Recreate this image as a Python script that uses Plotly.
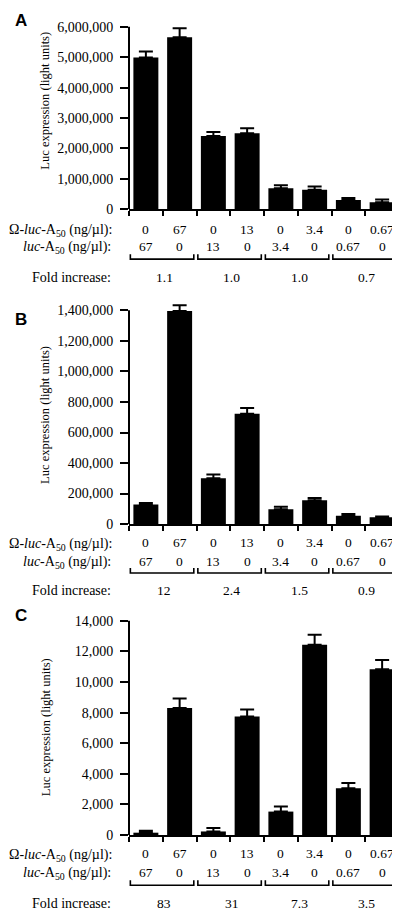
import plotly.graph_objects as go

W, H = 400, 912

# ---------------- data ----------------
omega_conc = ["0", "67", "0", "13", "0", "3.4", "0", "0.67"]
luc_conc = ["67", "0", "13", "0", "3.4", "0", "0.67", "0"]

values_A = [4990000, 5660000, 2410000, 2500000, 690000, 640000, 300000, 230000]
err_A = [200000, 290000, 130000, 160000, 100000, 110000, 70000, 90000]
fold_A = ["1.1", "1.0", "1.0", "0.7"]
ticks_A = [0, 1000000, 2000000, 3000000, 4000000, 5000000, 6000000]

values_B = [128000, 1395000, 301000, 723000, 97000, 156000, 55000, 45000]
err_B = [11000, 39000, 24000, 37000, 16000, 15000, 12000, 5000]
fold_B = ["12", "2.4", "1.5", "0.9"]
ticks_B = [0, 200000, 400000, 600000, 800000, 1000000, 1200000, 1400000]

values_C = [150, 8310, 230, 7750, 1530, 12440, 3050, 10840]
err_C = [130, 610, 220, 455, 325, 650, 345, 600]
fold_C = ["83", "31", "7.3", "3.5"]
ticks_C = [0, 2000, 4000, 6000, 8000, 10000, 12000, 14000]

panel_letters = ["A", "B", "C"]
y_title = "Luc expression (light units)"
row1_label = "Ω-<i>luc</i>-A<sub>50</sub> (ng/µl):"
row2_label = "<i>luc</i>-A<sub>50</sub> (ng/µl):"
fold_label = "Fold increase:"

# ---------------- layout geometry (pixels) ----------------
SERIF = "Liberation Serif"
SANS = "Liberation Sans"
FS = 14
FS_VAL = 13.5
X_LEFT, X_RIGHT = 121, 391

panels = [
    dict(vals=values_A, err=err_A, fold=fold_A, ticks=ticks_A,
         zero=203.0, top_px=19.0, letter_y=13, title_y=94,
         row1=223.3, row2=240.5, br_top=248.5, br_bot=253.3, fold_y=271.7),
    dict(vals=values_B, err=err_B, fold=fold_B, ticks=ticks_B,
         zero=520.7, top_px=305.0, letter_y=314, title_y=411,
         row1=539.3, row2=558.0, br_top=565.0, br_bot=570.0, fold_y=587.3),
    dict(vals=values_C, err=err_C, fold=fold_C, ticks=ticks_C,
         zero=834.3, top_px=618.3, letter_y=613, title_y=726,
         row1=853.3, row2=871.7, br_top=880.0, br_bot=885.0, fold_y=903.0),
]


def py(px):
    return 1 - px / H


def pxx(px):
    return px / W


fig = go.Figure()
annotations = []
shapes = []
xcent = [i + 0.5 for i in range(8)]

for k, p in enumerate(panels):
    n = "" if k == 0 else str(k + 1)
    xa, ya = "x" + n, "y" + n
    ymax = p["ticks"][-1]
    scale = (p["zero"] - p["top_px"]) / ymax
    rtop = ymax * 1.04
    dom_top = p["zero"] - rtop * scale

    fig.add_trace(go.Bar(
        x=xcent, y=p["vals"], width=0.74,
        marker=dict(color="black", line=dict(width=0)),
        error_y=dict(type="data", symmetric=False, array=p["err"],
                     arrayminus=[0] * 8, color="black", thickness=2, width=7),
        xaxis=xa, yaxis=ya, showlegend=False, hoverinfo="skip",
    ))

    fig.layout["xaxis" + n] = dict(
        domain=[pxx(X_LEFT), pxx(X_RIGHT)], range=[0, 8], anchor=ya,
        tickvals=list(range(9)), ticks="outside", ticklen=5, tickwidth=1.5,
        tickcolor="black", showticklabels=False, showline=True,
        linewidth=2, linecolor="black", showgrid=False, zeroline=False,
        fixedrange=True,
    )
    fig.layout["yaxis" + n] = dict(
        domain=[py(p["zero"]), py(dom_top)], range=[0, rtop], anchor=xa,
        tickvals=p["ticks"], tickformat=",d", ticks="outside", ticklen=8,
        tickwidth=1.5, tickcolor="black", showline=False,
        tickfont=dict(family=SERIF, size=FS, color="black"),
        ticklabelstandoff=4, showgrid=False, zeroline=False, fixedrange=True,
    )
    # y axis line up to top tick
    shapes.append(dict(type="line", xref=xa + " domain", yref=ya,
                       x0=0, x1=0, y0=0, y1=ymax,
                       line=dict(color="black", width=2)))

    # panel letter
    annotations.append(dict(text="<b>%s</b>" % panel_letters[k], xref="paper",
                            yref="paper", x=pxx(5), y=py(p["letter_y"]),
                            xanchor="left", yanchor="middle", showarrow=False,
                            font=dict(family=SANS, size=17, color="black")))
    # y title
    annotations.append(dict(text=y_title, xref="paper", yref="paper",
                            x=pxx(37.5), y=py(p["title_y"]), textangle=-90,
                            xanchor="center", yanchor="middle", showarrow=False,
                            font=dict(family=SERIF, size=12.5, color="black")))
    # row labels
    annotations.append(dict(text=row1_label, xref="paper", yref="paper",
                            x=pxx(106), y=py(p["row1"] + 1.5), xanchor="right",
                            yanchor="middle", showarrow=False,
                            font=dict(family=SERIF, size=FS, color="black")))
    annotations.append(dict(text=row2_label, xref="paper", yref="paper",
                            x=pxx(104.5), y=py(p["row2"] + 1.5), xanchor="right",
                            yanchor="middle", showarrow=False,
                            font=dict(family=SERIF, size=FS, color="black")))
    annotations.append(dict(text=fold_label, xref="paper", yref="paper",
                            x=pxx(104.5), y=py(p["fold_y"]), xanchor="right",
                            yanchor="middle", showarrow=False,
                            font=dict(family=SERIF, size=FS, color="black")))
    for i in range(8):
        annotations.append(dict(text=omega_conc[i], xref=xa, yref="paper",
                                x=xcent[i], y=py(p["row1"]), xanchor="center",
                                yanchor="middle", showarrow=False,
                                font=dict(family=SERIF, size=FS_VAL, color="black")))
        annotations.append(dict(text=luc_conc[i], xref=xa, yref="paper",
                                x=xcent[i], y=py(p["row2"]), xanchor="center",
                                yanchor="middle", showarrow=False,
                                font=dict(family=SERIF, size=FS_VAL, color="black")))
    for j in range(4):
        annotations.append(dict(text=p["fold"][j], xref=xa, yref="paper",
                                x=2 * j + 1.05, y=py(p["fold_y"]),
                                xanchor="center", yanchor="middle",
                                showarrow=False,
                                font=dict(family=SERIF, size=FS_VAL, color="black")))
        x0, x1 = 2 * j + 0.04, 2 * j + 1.92
        yt, yb = py(p["br_top"]), py(p["br_bot"])
        shapes.append(dict(type="path", xref=xa, yref="paper",
                           path="M %f,%f L %f,%f L %f,%f L %f,%f" % (x0, yt, x0, yb, x1, yb, x1, yt),
                           line=dict(color="black", width=1.6)))

fig.update_layout(
    width=W, height=H, margin=dict(l=0, r=0, t=0, b=0),
    paper_bgcolor="white", plot_bgcolor="white",
    annotations=annotations, shapes=shapes, bargap=0.26,
    font=dict(family=SERIF, color="black"),
)

fig.write_html("out.html")
